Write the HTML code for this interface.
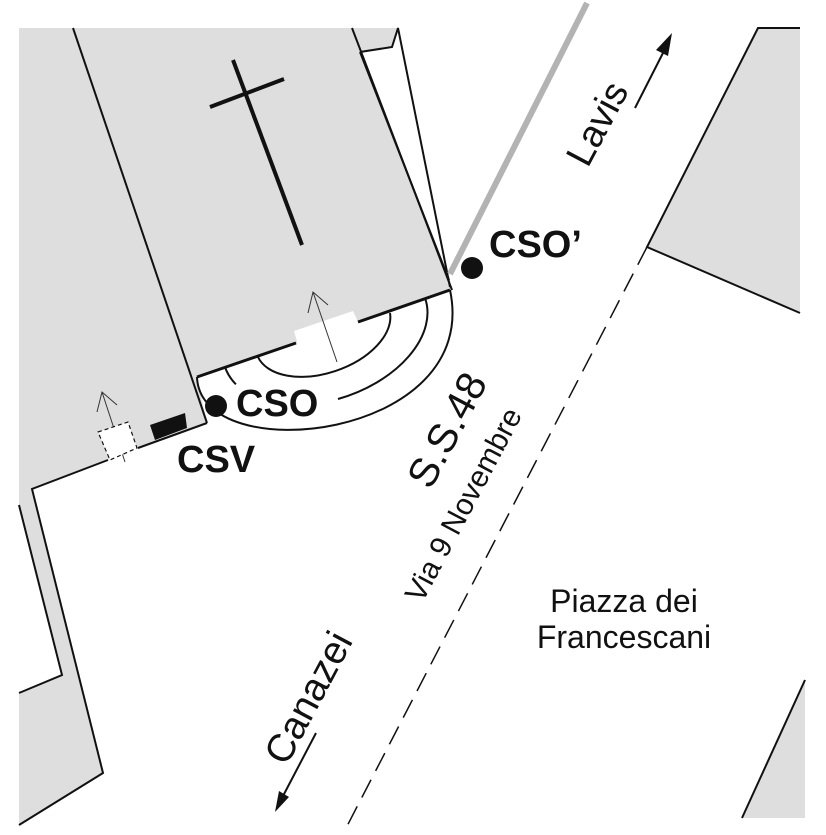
<!DOCTYPE html>
<html><head><meta charset="utf-8"><style>
html,body{margin:0;padding:0;background:#fff;}
svg{display:block;}
text{font-family:"Liberation Sans",Arial,sans-serif;fill:#111;}
</style></head><body>
<svg width="826" height="835" viewBox="0 0 826 835" xmlns="http://www.w3.org/2000/svg">
<polygon points="19,28 352,28 452,290 197,378 207,423 138,448 108,460 32,489 103,773 19,825" fill="#dedede"/>
<polygon points="19,505 62,675 19,693" fill="#fff"/>
<polygon points="352,28 398,28 392,47 360,52" fill="#dedede"/>
<polygon points="758,28 800,28 800,313 647,247" fill="#dedede"/>
<polyline points="800,28 758,28 647,247 800,313" fill="none" stroke="#111" stroke-width="2"/>
<polygon points="805,680 742,818 805,818" fill="#dedede"/>
<line x1="805" y1="680" x2="742" y2="818" stroke="#111" stroke-width="2"/>

<g fill="none" stroke="#111" stroke-width="2">
<line x1="73" y1="28" x2="207" y2="423"/>
<polyline points="207,423 138,448"/>
<polyline points="108,460 32,489 103,773 19,825"/>
<polyline points="19,505 62,675 19,693"/>
<line x1="352" y1="28" x2="452" y2="290"/>
<polyline points="360,52 392,47 398,28 450,287"/>
<line x1="360" y1="52" x2="449" y2="280"/>
</g>
<polygon points="294,331 353,311 359,324 298,345" fill="#fff"/>
<g stroke="#111" stroke-width="3" fill="none">
<line x1="197" y1="377" x2="296" y2="343"/>
<line x1="358" y1="322" x2="450" y2="290"/>
</g>
<g fill="none" stroke="#111" stroke-width="2">
<path d="M197,377 C200,470 482,440 450,290"/>
<path d="M425,298 A105.7,67 -19 0 1 338,399"/>
<path d="M235.9,384.3 A105.7,67 -19 0 1 225,367"/>
<path d="M390,313 A69.8,41 -19 0 1 258,357"/>
</g>
<g stroke="#111" stroke-width="4">
<line x1="233" y1="60" x2="302" y2="245"/>
<line x1="210" y1="107" x2="284" y2="79"/>
</g>
<line x1="450" y1="274" x2="587" y2="3" stroke="#b3b3b3" stroke-width="6"/>
<g stroke="#333" stroke-width="1" fill="none">
<polyline points="337,362 313,292"/>
<polyline points="308,313 313,292 328,305"/>
<polyline points="125,462 102,392"/>
<polyline points="97,412 102,392 117,405"/>
</g>
<polygon points="98,432 128,422 137,448 110,460" fill="#fff" stroke="#111" stroke-width="1.2" stroke-dasharray="4,3"/>
<polygon points="150,425 185,413 187,428 155,440" fill="#111"/>
<circle cx="216" cy="406" r="11" fill="#111"/>
<circle cx="472" cy="268" r="11" fill="#111"/>
<text x="236" y="416" font-size="38" font-weight="bold">CSO</text>
<text x="177" y="472" font-size="38" font-weight="bold">CSV</text>
<text x="489" y="257" font-size="38" font-weight="bold">CSO’</text>
<line x1="647" y1="247" x2="345" y2="830" stroke="#111" stroke-width="1.5" stroke-dasharray="20,10"/>
<line x1="635" y1="108" x2="664" y2="51" stroke="#111" stroke-width="2"/>
<polygon points="672,33 668,56 656,50" fill="#111"/>
<line x1="316" y1="733" x2="283" y2="796" stroke="#111" stroke-width="2"/>
<polygon points="275,812 289,797 279,791" fill="#111"/>
<text x="598" y="124" font-size="38" text-anchor="middle" dominant-baseline="central" transform="rotate(-62 598 124)">Lavis</text>
<text x="309" y="698" font-size="39" text-anchor="middle" dominant-baseline="central" transform="rotate(-62 309 698)">Canazei</text>
<text x="447" y="430" font-size="41" text-anchor="middle" dominant-baseline="central" transform="rotate(-62 447 430)">S.S.48</text>
<text x="464" y="505" font-size="30" text-anchor="middle" dominant-baseline="central" transform="rotate(-62 464 505)">Via 9 Novembre</text>
<text x="624" y="612" font-size="32" text-anchor="middle">Piazza dei</text>
<text x="624" y="648" font-size="32" text-anchor="middle">Francescani</text>
</svg>
</body></html>
